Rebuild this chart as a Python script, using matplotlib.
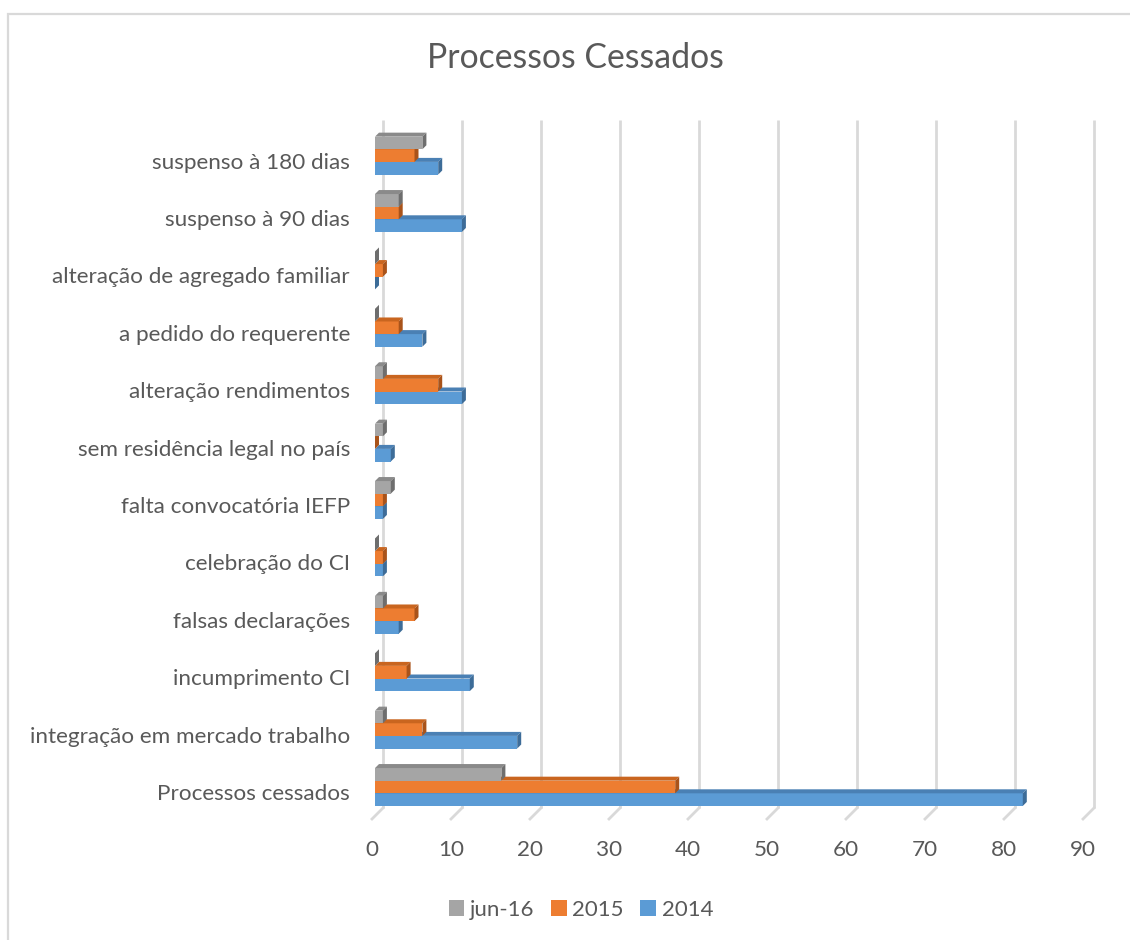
import numpy as np
import matplotlib
matplotlib.use("Agg")
import matplotlib.pyplot as plt
from matplotlib.patches import Polygon, Patch, Rectangle
from matplotlib.transforms import ScaledTranslation, blended_transform_factory

plt.rcParams['font.family'] = ['Lato', 'DejaVu Sans']

categories = ["suspenso à 180 dias", "suspenso à 90 dias", "alteração de agregado familiar",
              "a pedido do requerente", "alteração rendimentos", "sem residência legal no país",
              "falta convocatória IEFP", "celebração do CI", "falsas declarações",
              "incumprimento CI", "integração em mercado trabalho", "Processos cessados"]
jun16 = [6, 3, 0, 0, 1, 1, 2, 0, 1, 0, 1, 16]
y2015 = [5, 3, 1, 3, 8, 0, 1, 1, 5, 4, 6, 38]
y2014 = [8, 11, 0, 6, 11, 2, 1, 1, 3, 12, 18, 82]
xticks = list(range(0, 100, 10))

txt = '#595959'
grid = '#D9D9D9'

W, H = 1130, 940
fig = plt.figure(figsize=(W / 100, H / 100), dpi=100)
# plot area in pixels: x 375..1086, y 120..808
ax = fig.add_axes([375 / W, (H - 808) / H, 711 / W, 688 / H])
xmax = 90
ymin, ymax = -0.366, 11.62
ax.set_xlim(0, xmax)
ax.set_ylim(ymin, ymax)
for s in ax.spines.values():
    s.set_visible(False)

px_x = xmax / 711.0                  # data units per pixel along x
px_y = (ymax - ymin) / 688.0         # data units per pixel along y

# back-wall gridlines and slanted floor ticks
bt = blended_transform_factory(ax.transData, ax.transAxes)
for t in xticks:
    ax.plot([t + 8 * px_x, t + 8 * px_x], [0, 1], transform=bt, color=grid, lw=2.0,
            zorder=0, clip_on=False, solid_capstyle='butt')
    ax.plot([t + 8 * px_x, t - 3 * px_x], [0, -11 / 688], transform=bt, color=grid, lw=2.0,
            zorder=0, clip_on=False)

pos = np.arange(len(categories))[::-1]
bh = 0.22
dx, dy = 4 * px_x, 4 * px_y

series = [
    ("2014", y2014, -bh, '#5B9BD5', '#4A80B4', '#3D6C98'),
    ("2015", y2015, 0.0, '#ED7D31', '#C9651F', '#A9531A'),
    ("jun-16", jun16, bh, '#A5A5A5', '#8A8A8A', '#6E6E6E'),
]

# draw bottom series first so upper bars sit over the top faces below them
for name, vals, off, front, top, side in series:
    yc = pos + off
    ax.barh(yc, vals, height=bh, color=front, zorder=2)
    for v, y in zip(vals, yc):
        y0, y1 = y - bh / 2, y + bh / 2
        ax.add_patch(Polygon([(0, y1), (v, y1), (v + dx, y1 + dy), (dx, y1 + dy)],
                             closed=True, facecolor=top, edgecolor='none', zorder=2))
        ax.add_patch(Polygon([(v, y0), (v + dx, y0 + dy), (v + dx, y1 + dy), (v, y1)],
                             closed=True, facecolor=side, edgecolor='none', zorder=2))

ax.set_yticks(pos)
ax.set_yticklabels(categories, fontsize=16.2, color=txt)
ax.tick_params(axis='y', length=0, pad=18)
for lab in ax.get_yticklabels():
    lab.set_transform(lab.get_transform() + ScaledTranslation(0, -5 / 100, fig.dpi_scale_trans))

ax.set_xticks(xticks)
ax.set_xticklabels([str(t) for t in xticks], fontsize=16.2, color=txt)
ax.tick_params(axis='x', length=0, pad=23)
for lab in ax.get_xticklabels():
    lab.set_transform(lab.get_transform() + ScaledTranslation(-3 / 100, 0, fig.dpi_scale_trans))

fig.text(575 / W, 1 - 58 / H, "Processos Cessados", ha='center', va='center',
         fontsize=24.3, color=txt)

handles = [Patch(facecolor=c[3], edgecolor='none', label=c[0]) for c in series[::-1]]
fig.legend(handles=handles, loc='center', bbox_to_anchor=(581 / W, 1 - 910 / H), ncol=3,
           frameon=False, fontsize=16, labelcolor=txt, handlelength=0.7,
           handleheight=0.7, handletextpad=0.25, columnspacing=0.75)

# chart area border
fig.patches.append(Rectangle((7.5 / W, -0.05), 1.1, (H - 13.5) / H + 0.05,
                             transform=fig.transFigure, fill=False,
                             edgecolor=grid, lw=1.6, zorder=0))

fig.savefig("out.png", dpi=100)
